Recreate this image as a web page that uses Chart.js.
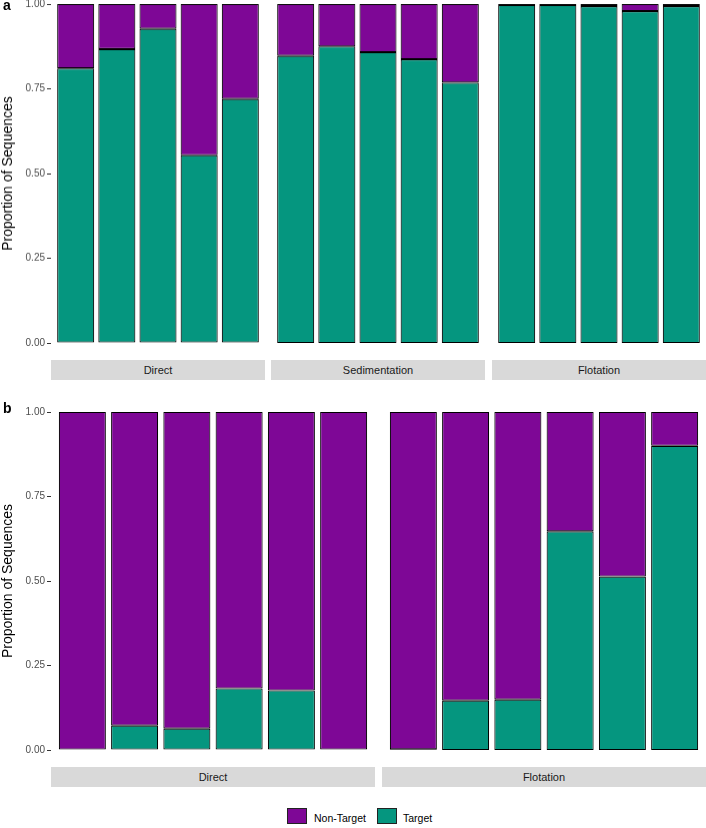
<!DOCTYPE html>
<html>
<head>
<meta charset="utf-8">
<script src="https://cdn.jsdelivr.net/npm/chart.js@4"></script>
<style>
  html, body { margin: 0; padding: 0; background: #fff; }
  #wrap { position: relative; width: 706px; height: 828px; overflow: hidden; font-family: "Liberation Sans", Arial, sans-serif; }
  canvas { position: absolute; }
  .strip { position: absolute; background: #D9D9D9; color: #1A1A1A; font-size: 11px; display: flex; align-items: center; justify-content: center; }
  .plabel { position: absolute; font-weight: bold; font-size: 14px; line-height: 14px; color: #000; }
  .legend { position: absolute; font-size: 10.5px; color: #000; }
  .key { position: absolute; box-sizing: border-box; border: 1px solid #222; }
</style>
</head>
<body>
<div id="wrap"></div>
<script>
// ---------------- Data ----------------
const seriesNames = ["Non-Target", "Target"];
const colors = { "Non-Target": "#7E0796", "Target": "#05967F" };

// Panel a
const panelAFacets = ["Direct", "Sedimentation", "Flotation"];
const aDirectTarget        = [0.810, 0.867, 0.927, 0.554, 0.720];
const aDirectNonTarget     = [0.190, 0.133, 0.073, 0.446, 0.280];
const aSedimentationTarget = [0.847, 0.875, 0.858, 0.837, 0.768];
const aSedimentationNonTarget = [0.153, 0.125, 0.142, 0.163, 0.232];
const aFlotationTarget     = [0.997, 0.997, 0.994, 0.979, 0.994];
const aFlotationNonTarget  = [0.003, 0.003, 0.006, 0.021, 0.006];

// Panel b
const panelBFacets = ["Direct", "Flotation"];
const bDirectTarget        = [0.000, 0.072, 0.063, 0.182, 0.176, 0.000];
const bDirectNonTarget     = [1.000, 0.928, 0.937, 0.818, 0.824, 1.000];
const bFlotationTarget     = [0.002, 0.146, 0.149, 0.647, 0.513, 0.900];
const bFlotationNonTarget  = [0.998, 0.854, 0.851, 0.353, 0.487, 0.100];

const yTicks = [0, 0.25, 0.5, 0.75, 1];
const yTitle = "Proportion of Sequences";

// ---------------- Layout ----------------
const wrap = document.getElementById('wrap');
const FONT = '"Liberation Sans", Arial, sans-serif';
const AXIS_W = 51;
const PAD = 10;

function makeFacet(cfg) {
  const c = document.createElement('canvas');
  const left = cfg.showY ? 0 : cfg.left;
  const width = cfg.showY ? cfg.left + cfg.width : cfg.width;
  c.width = width; c.height = cfg.height + 2 * PAD;
  c.style.left = left + 'px';
  c.style.top = (cfg.top - PAD) + 'px';
  c.style.width = width + 'px';
  c.style.height = (cfg.height + 2 * PAD) + 'px';
  wrap.appendChild(c);
  const n = cfg.target.length;
  const xs = cfg.target.map((v, i) => i + 1);
  const mk = (arr) => arr.map((v, i) => ({ x: xs[i], y: v }));
  const yOpts = cfg.showY ? {
    stacked: true, min: 0, max: 1, display: true,
    afterFit: (s) => { s.width = AXIS_W; },
    afterBuildTicks: (s) => { s.ticks = yTicks.map(v => ({ value: v })); },
    grid: { display: true, drawOnChartArea: false, drawTicks: true, tickLength: 4, color: '#333333', lineWidth: 1 },
    border: { display: false },
    ticks: { font: { family: FONT, size: 10 }, color: '#4D4D4D', padding: 2,
             callback: (v) => Number(v).toFixed(2) },
    title: { display: true, text: yTitle, font: { family: FONT, size: 14 }, color: '#000', padding: { top: 0, bottom: 0 } }
  } : { stacked: true, min: 0, max: 1, display: false };
  new Chart(c, {
    type: 'bar',
    data: {
      datasets: [
        { label: "Target", data: mk(cfg.target), backgroundColor: colors["Target"],
          borderColor: '#000000', borderWidth: 1.1, borderSkipped: false,
          barPercentage: 0.9, categoryPercentage: 1 },
        { label: "Non-Target", data: mk(cfg.nonTarget), backgroundColor: colors["Non-Target"],
          borderColor: '#000000', borderWidth: 1.1, borderSkipped: false,
          barPercentage: 0.9, categoryPercentage: 1 }
      ]
    },
    options: {
      responsive: false,
      animation: false,
      devicePixelRatio: 1,
      layout: { padding: { top: PAD, bottom: PAD, left: 0, right: 0 } },
      plugins: { legend: { display: false }, tooltip: { enabled: false } },
      scales: {
        x: { type: 'linear', min: 0.4, max: n + 0.6, offset: false, stacked: true, display: false,
             afterBuildTicks: (s) => { s.ticks = xs.map(v => ({ value: v })); } },
        y: yOpts
      }
    }
  });
}

function strip(text, left, top, width, height) {
  const d = document.createElement('div');
  d.className = 'strip';
  d.style.left = left + 'px'; d.style.top = top + 'px';
  d.style.width = width + 'px'; d.style.height = height + 'px';
  d.textContent = text;
  wrap.appendChild(d);
}

function plabel(text, left, top) {
  const d = document.createElement('div');
  d.className = 'plabel';
  d.style.left = left + 'px'; d.style.top = top + 'px';
  d.textContent = text;
  wrap.appendChild(d);
}

// Panel a
const aData = [
  [aDirectTarget, aDirectNonTarget],
  [aSedimentationTarget, aSedimentationNonTarget],
  [aFlotationTarget, aFlotationNonTarget]
];
const aLefts = [51, 271, 492];
const aWidth = 214;
const aTop = 4, aHeight = 338.5;
panelAFacets.forEach((f, i) => {
  makeFacet({ left: aLefts[i], width: aWidth, top: aTop, height: aHeight,
              target: aData[i][0], nonTarget: aData[i][1], showY: i === 0 });
  strip(f, aLefts[i], 360, aWidth, 20);
});
plabel("a", 3, -2);

// Panel b
const bData = [
  [bDirectTarget, bDirectNonTarget],
  [bFlotationTarget, bFlotationNonTarget]
];
const bLefts = [51, 382];
const bWidth = 324;
const bTop = 411.5, bHeight = 338.5;
panelBFacets.forEach((f, i) => {
  makeFacet({ left: bLefts[i], width: bWidth, top: bTop, height: bHeight,
              target: bData[i][0], nonTarget: bData[i][1], showY: i === 0 });
  strip(f, bLefts[i], 767, bWidth, 20);
});
plabel("b", 3, 401);

// Legend
function legendItem(name, kx, tx) {
  const k = document.createElement('div');
  k.className = 'key';
  k.style.left = kx + 'px'; k.style.top = '808px';
  k.style.width = '20px'; k.style.height = '16px';
  k.style.background = colors[name];
  wrap.appendChild(k);
  const t = document.createElement('div');
  t.className = 'legend';
  t.style.left = tx + 'px'; t.style.top = '810px';
  t.style.lineHeight = '16px';
  t.textContent = name;
  wrap.appendChild(t);
}
legendItem(seriesNames[0], 287, 314);
legendItem(seriesNames[1], 377, 403);
</script>
</body>
</html>
